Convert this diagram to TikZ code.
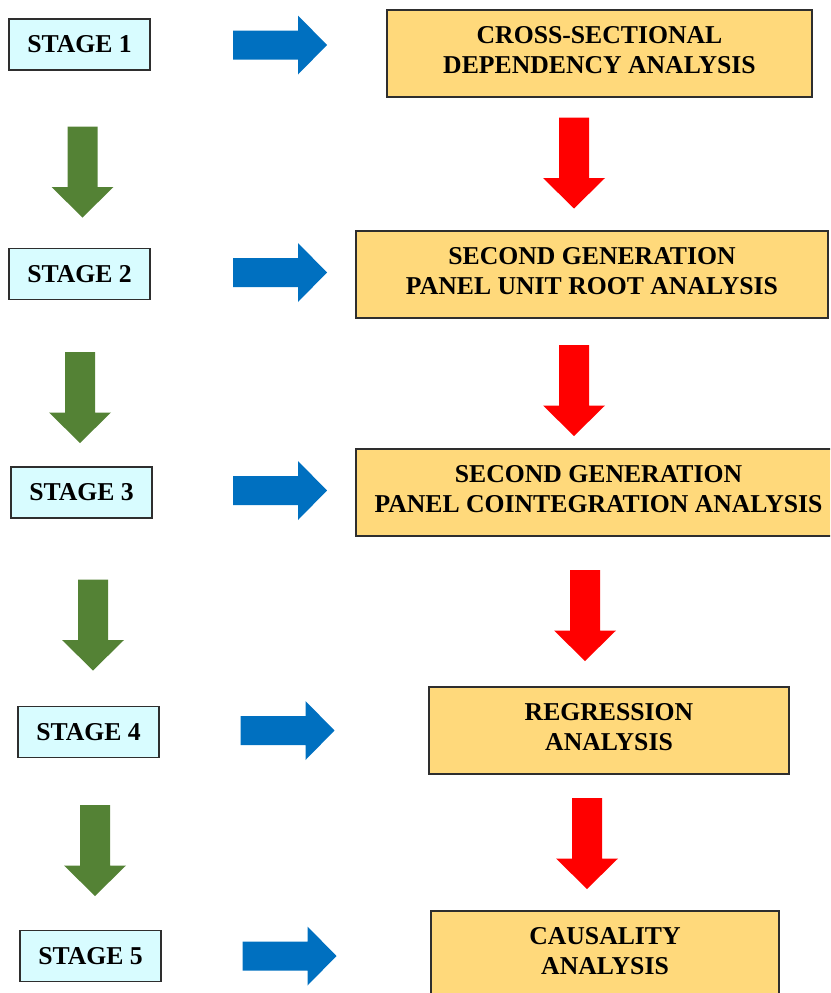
\documentclass[tikz,border=0pt]{standalone}
\usepackage{fontspec}
\setmainfont{Liberation Serif}
\definecolor{stagefill}{HTML}{D8FCFF}
\definecolor{anfill}{HTML}{FFD97B}
\definecolor{boxline}{HTML}{2E2E2E}
\definecolor{bluearr}{HTML}{0070C0}
\definecolor{greenarr}{HTML}{548235}
\definecolor{redarr}{HTML}{FF0000}
\newcommand\mytwolines[2]{\raisebox{1.5pt}[\height][\depth]{\begin{tabular}{@{}c@{}}#1\\#2\end{tabular}}}
\tikzset{
  pics/rightarr/.style={code={\fill[bluearr] (-47,-14.5) -- (18,-14.5) -- (18,-29.5) -- (47,0) -- (18,29.5) -- (18,14.5) -- (-47,14.5) -- cycle;}},
  pics/downarr/.style={code={\fill[#1] (-15,-45.5) -- (15,-45.5) -- (15,15) -- (31,15) -- (0,45.5) -- (-31,15) -- (-15,15) -- cycle;}}
}
\begin{document}
\begin{tikzpicture}[x=1pt,y=-1pt,
  txt/.style={font=\fontsize{25.7pt}{30pt}\selectfont\bfseries},
  stagebox/.style={txt, draw=boxline, line width=1.3pt, fill=stagefill, minimum width=141pt, minimum height=51pt, inner sep=0pt},
  anbox/.style={txt, draw=boxline, line width=1.3pt, fill=anfill, minimum height=87pt, inner sep=0pt}]
\useasboundingbox (0,0) rectangle (830,993);
\clip (0,0) rectangle (830,993);
% stage boxes
\node[stagebox] (s1) at (79.5,44.5) {STAGE 1};
\node[stagebox] (s2) at (79.5,274) {STAGE 2};
\node[stagebox] (s3) at (81.5,492.5) {STAGE 3};
\node[stagebox] (s4) at (88.5,732) {STAGE 4};
\node[stagebox] (s5) at (90.5,956) {STAGE 5};
% analysis boxes
\node[anbox, minimum width=425pt] (a1) at (599.5,53.5) {\mytwolines{CROSS-SECTIONAL}{DEPENDENCY ANALYSIS}};
\node[anbox, minimum width=472pt] (a2) at (592,274.5) {\mytwolines{SECOND GENERATION}{PANEL UNIT ROOT ANALYSIS}};
\node[anbox, minimum width=485pt] (a3) at (598.5,492.5) {\mytwolines{SECOND GENERATION}{PANEL COINTEGRATION ANALYSIS}};
\node[anbox, minimum width=360pt] (a4) at (609,730.5) {\mytwolines{REGRESSION}{ANALYSIS}};
\node[anbox, minimum width=348pt] (a5) at (605,954.5) {\mytwolines{CAUSALITY}{ANALYSIS}};
% blue arrows
\pic (b1) at (280,45) {rightarr};
\pic (b2) at (280,272.5) {rightarr};
\pic (b3) at (280,490.5) {rightarr};
\pic (b4) at (287.5,730.5) {rightarr};
\pic (b5) at (289.5,956) {rightarr};
% green arrows
\pic (g1) at (82.5,172) {downarr=greenarr};
\pic (g2) at (80,397.5) {downarr=greenarr};
\pic (g3) at (93,625) {downarr=greenarr};
\pic (g4) at (95,850.5) {downarr=greenarr};
% red arrows
\pic (r1) at (574,163) {downarr=redarr};
\pic (r2) at (574,390.5) {downarr=redarr};
\pic (r3) at (585,615.5) {downarr=redarr};
\pic (r4) at (587,843.5) {downarr=redarr};
\end{tikzpicture}
\end{document}
